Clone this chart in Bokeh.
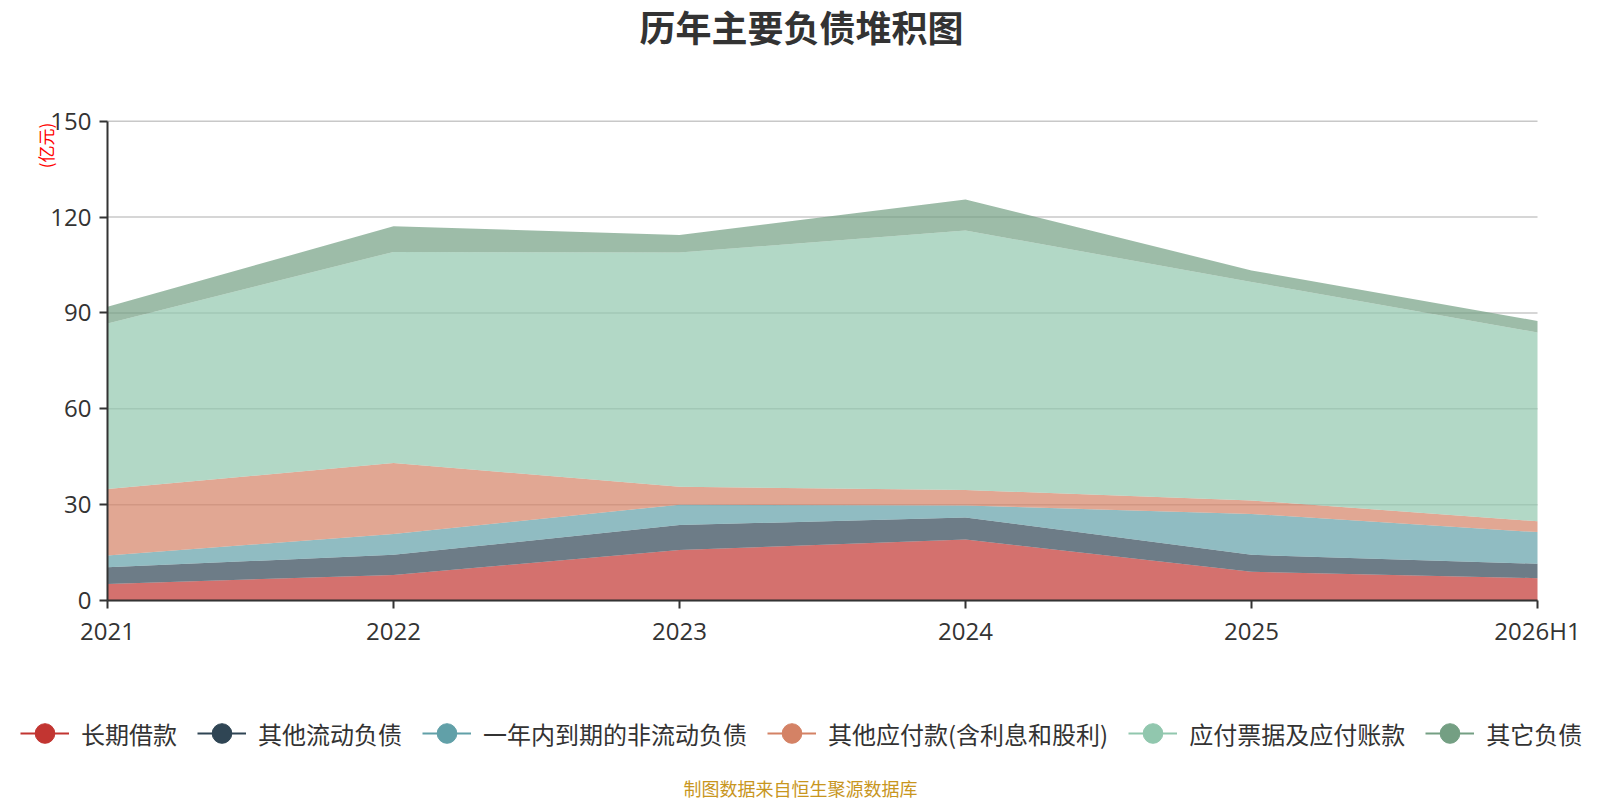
from bokeh.plotting import figure
from bokeh.models import (ColumnDataSource, Range1d, FixedTicker, Label, Legend,
                          LegendItem)
from bokeh.embed import file_html
from bokeh.resources import INLINE

categories = ["2021", "2022", "2023", "2024", "2025", "2026H1"]
long_loans = [5.2, 8.0, 15.8, 19.1, 9.0, 7.0]
other_current = [5.2, 6.3, 7.8, 6.9, 5.3, 4.5]
due_within_year = [3.7, 6.5, 6.4, 3.7, 12.8, 9.9]
other_payables = [20.8, 22.2, 5.6, 4.9, 4.2, 3.4]
notes_accounts = [51.8, 66.1, 73.3, 81.2, 68.4, 59.1]
other_liab = [5.2, 8.0, 5.5, 9.7, 3.6, 3.6]

series_names = ["长期借款", "其他流动负债", "一年内到期的非流动负债",
                "其他应付款(含利息和股利)", "应付票据及应付账款", "其它负债"]
series_values = [long_loans, other_current, due_within_year,
                 other_payables, notes_accounts, other_liab]
colors = ["#c23531", "#2f4554", "#61a0a8", "#d48265", "#91c7ae", "#749f83"]
y_ticks = [0, 30, 60, 90, 120, 150]
y_max = 150

W, H = 1600, 800
CJK = "Noto Sans CJK SC"

# plot area in canvas pixels (the frame spans the whole canvas; the axes are
# pinned with fixed_location so that titles/legend outside the plot area are
# still inside the frame)
PL, PR, PT, PB = 107, 1537, 120.7, 600
n = len(categories) - 1
xs = (PR - PL) / n
ys = (PB - PT) / y_max
x_range = Range1d(-PL / xs, n + (W - PR) / xs)
y_range = Range1d(-(H - PB) / ys, y_max + PT / ys)

keys = ["s%d" % i for i in range(len(series_names))]
data = {"x": list(range(len(categories)))}
for k, v in zip(keys, series_values):
    data[k] = v
src = ColumnDataSource(data)

p = figure(width=W, height=H, output_backend="svg", toolbar_location=None,
           x_range=x_range, y_range=y_range,
           min_border=0, min_border_left=0, min_border_right=0,
           min_border_top=0, min_border_bottom=0)
p.outline_line_color = None

# horizontal grid lines limited to the plot area
p.xgrid.visible = False
p.ygrid.visible = False
p.segment(x0=[0] * len(y_ticks), x1=[n] * len(y_ticks), y0=y_ticks, y1=y_ticks,
          line_color="#c8c8c8", line_width=1.5, level="underlay")

p.varea_stack(stackers=keys, x="x", color=colors, fill_alpha=0.7, source=src)

p.xaxis.ticker = FixedTicker(ticks=list(range(len(categories))))
p.xaxis.major_label_overrides = {i: c for i, c in enumerate(categories)}
p.yaxis.ticker = FixedTicker(ticks=y_ticks)
p.xaxis.fixed_location = 0
p.yaxis.fixed_location = 0
p.xaxis.bounds = (0, n)
p.yaxis.bounds = (0, y_max)
for ax in (p.xaxis, p.yaxis):
    ax.axis_line_color = "#333333"
    ax.axis_line_width = 2
    ax.major_tick_line_color = "#333333"
    ax.major_tick_line_width = 2
    ax.major_tick_out = 8
    ax.major_tick_in = 0
    ax.minor_tick_line_color = None
    ax.major_label_text_font = "Open Sans"
    ax.major_label_text_font_size = "24px"
    ax.major_label_text_color = "#333333"
p.yaxis.major_label_standoff = 8
p.xaxis.major_label_standoff = 5

# legend (proxy renderers with a single undrawable point)
nan = float("nan")
items = []
for name, c in zip(series_names, colors):
    ln = p.line(x=[nan, nan], y=[nan, nan], line_color=c, line_width=2)
    sc = p.scatter(x=[nan], y=[nan], marker="circle", fill_color=c, line_color=c)
    items.append(LegendItem(label=name, renderers=[ln, sc]))
legend = Legend(items=items, orientation="horizontal", location=(20, 41),
                glyph_width=49, glyph_height=52, label_standoff=12, spacing=20,
                padding=0, margin=0, border_line_color=None,
                background_fill_alpha=0,
                label_text_font=CJK, label_text_font_size="24px",
                label_text_color="#333333")
p.add_layout(legend, "center")

# texts (screen units: from the canvas' bottom-left corner)
p.add_layout(Label(x=801, y=H - 25, x_units="screen", y_units="screen",
                   text="历年主要负债堆积图", text_align="center",
                   text_baseline="middle", text_font=CJK,
                   text_font_size="36px", text_font_style="bold",
                   text_color="#333333"))
p.add_layout(Label(x=45, y=H - 145, x_units="screen", y_units="screen",
                   text="(亿元)", text_align="center", text_baseline="middle",
                   angle=1.5707963, text_font=CJK,
                   text_font_size="17px", text_color="#ff0000"))
p.add_layout(Label(x=800, y=13, x_units="screen", y_units="screen",
                   text="制图数据来自恒生聚源数据库", text_align="center",
                   text_baseline="middle", text_font=CJK,
                   text_font_size="18px", text_color="#c8961e"))

open("out.html", "w").write(file_html(p, INLINE))
